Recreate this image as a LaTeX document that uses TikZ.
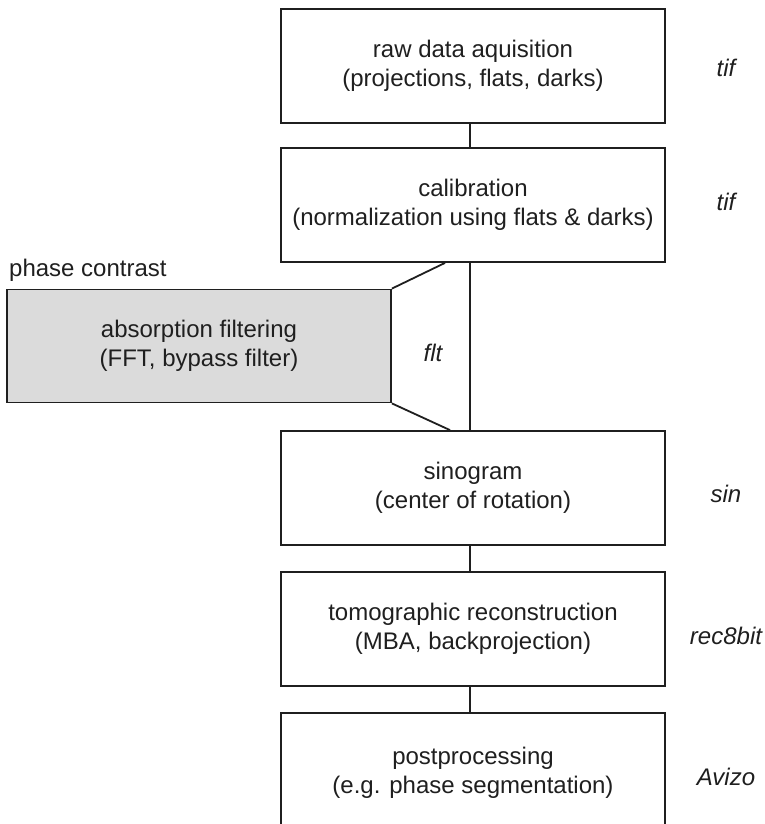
\documentclass[tikz,border=0pt]{standalone}
\usepackage{fontspec}
\setmainfont{Liberation Sans}
\begin{document}
\begin{tikzpicture}[x=1pt,y=-1pt,
  ink/.style={draw=black!88, line width=1.8pt},
  stagebox/.style={ink, minimum width=384pt, minimum height=114pt, align=center,
     font=\fontsize{24}{29}\selectfont, text=black!88, inner sep=0pt},
  fmt/.style={font=\fontsize{24}{29}\selectfont\itshape, text=black!88, inner sep=0pt},
]
\useasboundingbox (0,0) rectangle (765,824);
\begin{scope}
\clip (0,0) rectangle (765,824);
\node[stagebox] (b1) at (473,66) {raw data aquisition\\(projections, flats, darks)};
\node[stagebox] (b2) at (473,205) {calibration\\(normalization using flats \& darks)};
\node[stagebox] (b3) at (473,488) {sinogram\\(center of rotation)};
\node[stagebox] (b4) at (473,629) {tomographic reconstruction\\(MBA, backprojection)};
\node[stagebox, minimum height=120pt] (b5) at (473,773) {\raisebox{6pt}{\begin{tabular}{@{}c@{}}postprocessing\\(e.g. phase segmentation)\end{tabular}}};
\end{scope}
\node[stagebox, fill=black!14, minimum width=384pt, minimum height=113pt] (af) at (199,346) {absorption filtering\\(FFT, bypass filter)};
\node[fmt, font=\fontsize{24}{29}\selectfont, anchor=west] (pc) at (9,270) {phase contrast};

\node[fmt] (t1) at (726,68) {tif};
\node[fmt] (t2) at (726,202) {tif};
\node[fmt] (t3) at (433,353) {flt};
\node[fmt] (t4) at (726,494) {sin};
\node[fmt] (t5) at (726,636) {rec8bit};
\node[fmt] (t6) at (726,777) {Avizo};

\draw[ink] ([xshift=-3pt]b1.south) -- ([xshift=-3pt]b2.north);
\draw[ink] ([xshift=-3pt]b2.south) -- ([xshift=-3pt]b3.north);
\draw[ink] ([xshift=-3pt]b3.south) -- ([xshift=-3pt]b4.north);
\draw[ink] ([xshift=-3pt]b4.south) -- ([xshift=-3pt]b5.north);
\draw[ink] ([xshift=-28pt]b2.south) -- (af.north east);
\draw[ink] (af.south east) -- ([xshift=-23pt]b3.north);
\end{tikzpicture}
\end{document}
